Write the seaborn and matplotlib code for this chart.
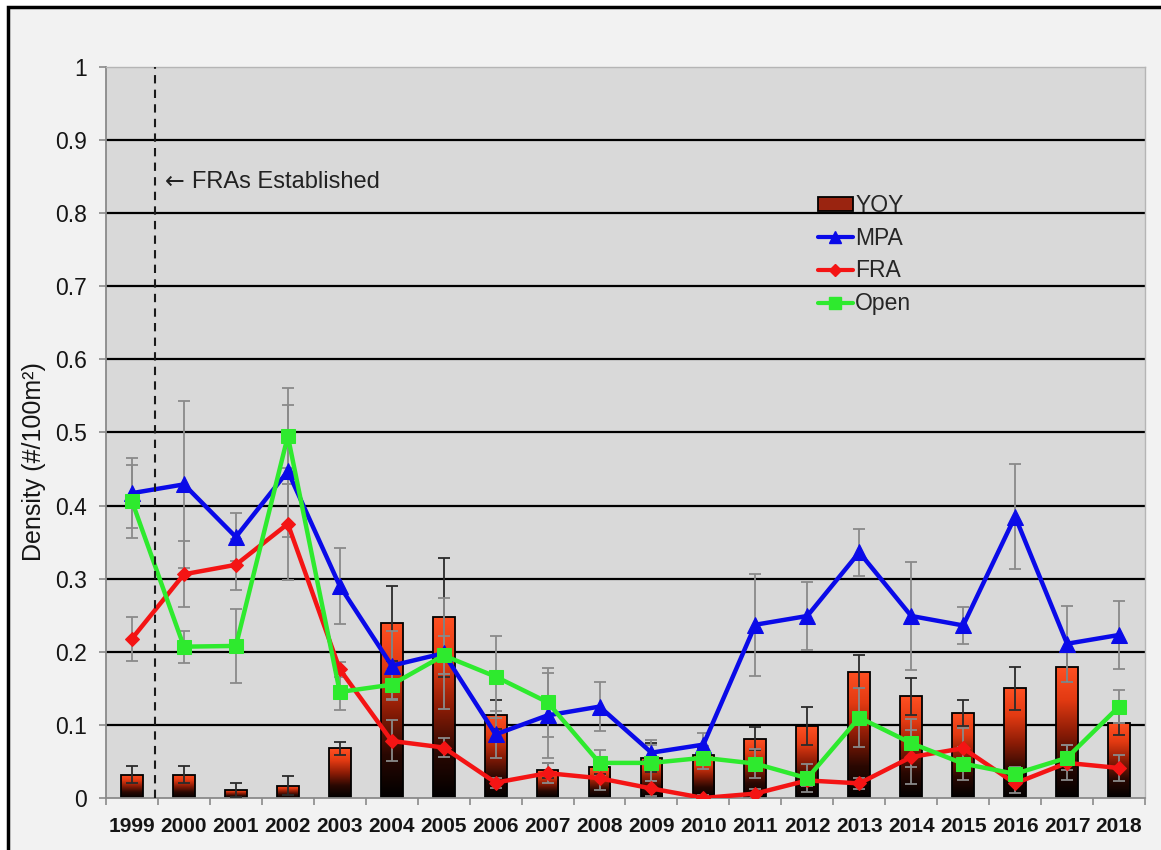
import matplotlib
matplotlib.use("Agg")
import matplotlib.pyplot as plt
import numpy as np
import pandas as pd
import seaborn as sns
from matplotlib.colors import LinearSegmentedColormap
from matplotlib.lines import Line2D
from matplotlib.patches import Patch, Rectangle


years = list(range(1999, 2019))

yoy = [0.032, 0.032, 0.011, 0.017, 0.068, 0.239, 0.247, 0.114, 0.038, 0.043,
       0.055, 0.059, 0.081, 0.098, 0.173, 0.139, 0.116, 0.150, 0.179, 0.102]
yoy_err = [0.012, 0.012, 0.010, 0.013, 0.009, 0.051, 0.081, 0.020, 0.010, 0.010,
           0.020, 0.010, 0.016, 0.026, 0.022, 0.025, 0.018, 0.029, 0.021, 0.016]

mpa = [0.417, 0.429, 0.357, 0.447, 0.290, 0.181, 0.198, 0.087, 0.113, 0.125,
       0.062, 0.073, 0.237, 0.249, 0.336, 0.249, 0.236, 0.385, 0.211, 0.223]
mpa_err = [0.048, 0.114, 0.033, 0.090, 0.052, 0.047, 0.076, 0.032, 0.058, 0.033,
           0.018, 0.016, 0.070, 0.047, 0.032, 0.074, 0.025, 0.072, 0.052, 0.046]

fra = [0.218, 0.306, 0.319, 0.375, 0.176, 0.078, 0.069, 0.021, 0.034, 0.027,
       0.013, 0.000, 0.006, 0.024, 0.020, 0.056, 0.068, 0.020, 0.048, 0.041]
fra_err = [0.030, 0.045, 0.035, 0.077, 0.010, 0.028, 0.013, 0.007, 0.014, 0.016,
           0.010, 0.004, 0.006, 0.008, 0.008, 0.037, 0.028, 0.013, 0.024, 0.018]

open_area = [0.406, 0.207, 0.208, 0.495, 0.145, 0.155, 0.195, 0.166, 0.131, 0.048,
             0.048, 0.055, 0.047, 0.027, 0.110, 0.075, 0.047, 0.033, 0.055, 0.125]
open_err = [0.050, 0.022, 0.051, 0.066, 0.025, 0.020, 0.026, 0.056, 0.047, 0.018,
            0.025, 0.016, 0.020, 0.019, 0.040, 0.033, 0.023, 0.010, 0.017, 0.023]

y_ticks = [0, 0.1, 0.2, 0.3, 0.4, 0.5, 0.6, 0.7, 0.8, 0.9, 1.0]

FONT = ["Liberation Sans", "DejaVu Sans"]
GRAY = "#8a8a8a"
INK = "#151515"


def configure_style() -> None:
    sns.set_theme(style="white")
    plt.rcParams.update(
        {
            "font.family": FONT,
            "axes.facecolor": "#d9d9d9",
            "figure.facecolor": "white",
        }
    )


def gradient_bars(ax, patches) -> None:
    cmap = LinearSegmentedColormap.from_list(
        "yoy", ["#000000", "#2a0802", "#8c1c06", "#e23a12", "#ff5022"]
    )
    grad = np.linspace(0, 1, 256).reshape(-1, 1)
    for bar in patches:
        x0, y0 = bar.get_x(), bar.get_y()
        w, h = bar.get_width(), bar.get_height()
        img = ax.imshow(grad, cmap=cmap, origin="lower", aspect="auto",
                        extent=(x0, x0 + w, y0, y0 + h), zorder=2.1)
        img.set_clip_path(bar)
        bar.set_facecolor("none")
        bar.set_edgecolor("black")
        bar.set_linewidth(1.3)
        bar.set_zorder(2.2)


def main() -> None:
    configure_style()
    df = pd.DataFrame({"year": years, "yoy": yoy})
    pos = np.arange(len(years))

    fig = plt.figure(figsize=(11.61, 8.5), dpi=100)
    frame = Rectangle((0.0065, -0.1), 1.2, 1.0918, transform=fig.transFigure,
                      facecolor="#f2f2f2", edgecolor="black", linewidth=2.5,
                      zorder=-10)
    fig.add_artist(frame)
    ax = fig.add_axes([0.0913, 0.0612, 0.8949, 0.86])

    sns.barplot(data=df, x="year", y="yoy", width=0.42, color="#c0301a",
                ax=ax, zorder=2)
    gradient_bars(ax, list(ax.patches))

    ax.errorbar(pos, yoy, yerr=yoy_err, fmt="none", ecolor="#2b2b2b",
                elinewidth=1.3, capsize=4.5, capthick=1.3, zorder=3)
    for vals, errs in [(mpa, mpa_err), (fra, fra_err), (open_area, open_err)]:
        ax.errorbar(pos, vals, yerr=errs, fmt="none", ecolor=GRAY,
                    elinewidth=1.3, capsize=4.5, capthick=1.3, zorder=3)

    series = [
        (mpa, "#0a0ae8", "^", 11, "MPA"),
        (fra, "#f41414", "D", 7.5, "FRA"),
        (open_area, "#2eea2e", "s", 10, "Open"),
    ]
    for vals, color, marker, ms, name in series:
        sns.lineplot(x=pos, y=vals, color=color, marker=marker, markersize=ms,
                     markeredgecolor=color, linewidth=3.2, ax=ax, zorder=4)

    ax.axvline(0.45, color="#1a1a1a", linestyle=(0, (4, 3)), linewidth=1.5, zorder=5)
    ax.text(0.635, 0.843, "\u2190", fontsize=17, va="center", ha="left",
            family="DejaVu Sans", color="#222222")
    ax.text(1.155, 0.843, "FRAs Established", fontsize=17, va="center",
            ha="left", color="#222222")

    ax.set_xlim(-0.5, len(years) - 0.5)
    ax.set_ylim(0, 1)
    ax.set_yticks(y_ticks)
    ax.set_yticklabels([f"{v:g}" for v in y_ticks])
    for v in y_ticks[1:-1]:
        ax.axhline(v, color="black", linewidth=1.6, zorder=1)

    ax.set_xticks(pos)
    ax.set_xticklabels([str(y) for y in years], fontweight="bold")
    ax.set_xticks(np.arange(-0.5, len(years)), minor=True)
    ax.tick_params(axis="x", which="major", length=0, pad=14, labelsize=15,
                   labelcolor=INK)
    ax.tick_params(axis="x", which="minor", length=5, width=1.2, color=GRAY,
                   bottom=True)
    ax.tick_params(axis="y", length=5, width=1.2, color=GRAY, left=True,
                   pad=9, labelsize=16.5, labelcolor=INK)

    ax.set_xlabel("")
    ax.set_ylabel("Density (#/100m\u00b2)", fontsize=18, color=INK)
    ax.yaxis.set_label_coords(-0.058, 0.46)

    for side in ["left", "bottom"]:
        ax.spines[side].set_color(GRAY)
        ax.spines[side].set_linewidth(1.3)
    for side in ["top", "right"]:
        ax.spines[side].set_color("#b5b5b5")
        ax.spines[side].set_linewidth(1.0)

    handles = [Patch(facecolor="#9a2410", edgecolor="black", linewidth=1.3)]
    for vals, color, marker, ms, name in series:
        handles.append(Line2D([], [], color=color, marker=marker, markersize=ms * 0.8,
                              linewidth=3))
    ax.legend(handles, ["YOY", "MPA", "FRA", "Open"], loc="upper left",
              bbox_to_anchor=(0.685, 0.826), frameon=False, fontsize=16.5,
              handlelength=1.55, handleheight=0.55, handletextpad=0.08,
              labelspacing=0.42, borderaxespad=0, borderpad=0)

    fig.savefig("out.png", dpi=100)
    plt.close(fig)


if __name__ == "__main__":
    main()
